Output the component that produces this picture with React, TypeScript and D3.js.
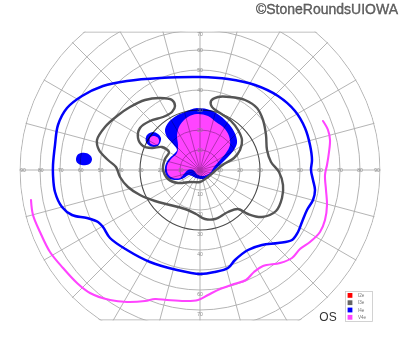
import React from 'react';
import * as d3 from 'd3';

type P = [number, number];

// Grid definitions (degrees)
const circleEcc = [10, 20, 30, 40, 50, 60, 70, 80, 90];
const meridians = [0, 15, 30, 45, 60, 75, 90, 105, 120, 135, 150, 165, 180, 195, 210, 225, 240, 255, 270, 285, 300, 315, 330, 345];
const hLabels = [10, 20, 30, 40, 50, 60, 70, 80, 90];
const vLabels = [10, 20, 30, 40, 50, 60, 70];
const topLimit = 69;
const bottomLimit = -75;

// Isopters, [horizontal deg, vertical deg]
const i4eOuter: P[] = [[0,46.5],[14,45.5],[27.5,42.5],[39,37],[47.5,29.5],[52.5,21],[55,12.5],[56,5],[55.5,0],[56.5,-5],[57.5,-10],[56.5,-15],[53.5,-20],[51,-26],[49,-31],[46,-35],[39,-36.5],[31,-37.5],[24,-40],[17.5,-45],[14,-49],[7.5,-51],[0,-52],[-11.5,-50],[-25,-46],[-36.5,-40],[-45,-34],[-48.5,-28.5],[-51,-26],[-56.5,-24],[-64,-22.5],[-69,-18.5],[-72.5,-11],[-73.5,-2.5],[-73.5,2.5],[-72.5,12.5],[-71,22.5],[-66.5,31],[-59,37],[-48.5,42],[-36.5,44.5],[-20,46]];

const i3e: P[] = [[-12.5,32],[-14,35],[-20,36],[-27.5,35],[-35,31.5],[-41.5,27],[-47.5,21.5],[-51.5,15],[-50.5,10],[-46,5],[-42,1.5],[-40,-3.5],[-36,-8.5],[-30,-12.5],[-22.5,-15.5],[-15,-17.5],[-7.5,-19.5],[-2,-22],[2.5,-24.5],[7.5,-24.5],[14,-21],[19,-19.5],[24,-22],[31,-23.5],[38,-20.5],[41,-14],[41.5,-7.5],[39.5,-1],[35.5,4],[33.5,10],[33,17.5],[31.5,25],[28.5,31],[22.5,35],[15,36.5],[9,36.5],[5.5,34.5],[6,31.5],[10,28.5],[15.5,24.5],[19,20],[21,15],[20,10],[17,6],[12,3],[7.5,-0.5],[4,-3.5],[0,-6],[-5,-6],[-11,-6.5],[-16,-4.5],[-18.5,0.5],[-17.5,5.5],[-15.5,9],[-19,11.5],[-24,11],[-28.5,12],[-31,16],[-30,21],[-25,24.5],[-18.5,26.5],[-14,29]];

const i4eCentral: P[] = [[-7.5,29],[-1.5,31],[5,30],[9.5,27.5],[13,24.5],[16,21],[18,17],[18.5,13.5],[17,10],[14,6.5],[11,3.5],[8,0.5],[5.5,-2.5],[2,-4.5],[-2,-4],[-5.5,-2.5],[-8,-4],[-11,-5],[-15,-4.5],[-17,-2.5],[-17.5,1.5],[-16,5],[-13,8],[-11.5,10],[-13.5,13],[-16.5,16.5],[-17.5,20],[-16,23.5],[-12,27]];

const v4eCentral: P[] = [[-1.5,28],[4,27],[8,24],[12,21],[14.5,17],[15,12.5],[13,8.5],[10,5],[7,1.5],[5,-1.5],[2,-3],[-1,-2.5],[-3.5,0],[-6,0],[-8,-2],[-10,-4],[-13.5,-4],[-16,-2],[-16.5,2],[-14.5,5.5],[-11.5,8.5],[-11,12.5],[-11.5,17.5],[-10,22.5],[-6,26.5]];

const i4eIsland: P[] = [[-27,16.5],[-26,18],[-23.5,19],[-21,18],[-19.5,16],[-20,13.5],[-22,11.5],[-25,12],[-27,14]];
const v4eIsland: P[] = [[-25,16],[-23.5,17],[-21.5,16.5],[-20.5,15],[-21,13],[-23,12.5],[-25,13.5]];
const i4eBlob: P[] = [[-62,5.5],[-61.2,7.6],[-59,8.6],[-56.5,8.4],[-54.6,7],[-54,5.2],[-55,3.2],[-57.5,2.4],[-60.2,2.8],[-61.7,4]];

const v4eOuter: P[] = [[61.5,24.5],[64,20],[65,15],[64.5,9],[63.5,2.5],[62.5,-2.5],[63,-10],[63.5,-17.5],[62.5,-25],[60,-31],[55,-36],[50,-39.5],[46,-44],[40,-46.5],[31.5,-48],[27,-51],[23,-55],[17,-57],[10,-59.5],[4,-62.5],[-1,-65],[-7.5,-65.5],[-16.5,-65],[-22.5,-64.5],[-27.5,-65.5],[-36.5,-66],[-45,-65],[-55,-61.5],[-61.5,-56.5],[-68.5,-49],[-75,-41],[-80,-31],[-83.5,-22.5],[-84.5,-15]];

const legendLabels = ['I2e', 'I3e', 'I4e', 'V4e'];
const legendColors = ['#ff0000', '#666666', '#0000ff', '#ff44ff'];

const BLUE = '#0000ff';
const PINK = '#ff44ff';
const GRAY = '#555555';

export default function App() {
  const x = d3.scaleLinear().domain([-90, 90]).range([20, 380]);
  const y = d3.scaleLinear().domain([-90, 90]).range([350, -10]);
  const r = d3.scaleLinear().domain([0, 90]).range([0, 180]);
  const cx = x(0), cy = y(0);

  const closed = d3.line<P>().x(d => x(d[0])).y(d => y(d[1])).curve(d3.curveCatmullRomClosed.alpha(0.5));
  const open = d3.line<P>().x(d => x(d[0])).y(d => y(d[1])).curve(d3.curveCatmullRom.alpha(0.5));

  const yTop = y(topLimit), yBot = y(bottomLimit);
  const font = 'Liberation Sans, Arial, sans-serif';
  const gridColor = '#ababab';

  return (
    <svg width={400} height={352} style={{ position: 'absolute', left: 0, top: 0, background: '#fff' }}>
      <defs>
        <clipPath id="rectClip">
          <rect x={0} y={yTop - 0.6} width={400} height={yBot - yTop + 1.2} />
        </clipPath>
        <clipPath id="circClip">
          <circle cx={cx} cy={cy} r={r(90) + 0.6} />
        </clipPath>
      </defs>
      <rect x={0} y={0} width={400} height={352} fill="#fff" />

      {/* filled regions */}
      <path d={closed(i4eCentral) || ''} fill={BLUE} />
      <path d={closed(v4eCentral) || ''} fill={PINK} />
      <path d={closed(i4eIsland) || ''} fill={BLUE} />
      <path d={closed(v4eIsland) || ''} fill={PINK} />
      <path d={closed(i4eBlob) || ''} fill={BLUE} />

      {/* grid */}
      <g style={{ mixBlendMode: 'multiply' }} clipPath="url(#rectClip)">
        <g clipPath="url(#circClip)">
          {meridians.map(a => {
            const rad = (a * Math.PI) / 180;
            return (
              <line key={'m' + a} x1={cx} y1={cy}
                x2={x(95 * Math.cos(rad))} y2={y(95 * Math.sin(rad))}
                stroke={gridColor} strokeWidth={0.9} />
            );
          })}
          {circleEcc.map(e => (
            <circle key={'c' + e} cx={cx} cy={cy} r={r(e)} fill="none"
              stroke={e === 30 ? '#4a4a4a' : gridColor} strokeWidth={e === 30 ? 1.1 : 0.9} />
          ))}
          <line x1={x(-90)} x2={x(90)} y1={yTop} y2={yTop} stroke={gridColor} strokeWidth={1.1} />
          <line x1={x(-90)} x2={x(90)} y1={yBot} y2={yBot} stroke={gridColor} strokeWidth={1.1} />
        </g>
      </g>

      {/* axis labels */}
      <g fontFamily={font} fontSize={5} fill="#8a8a8a" textAnchor="middle">
        {hLabels.map(v => (
          <React.Fragment key={'h' + v}>
            <text x={x(-v) + (v === 90 ? 3 : 0.7)} y={cy} dy="0.35em">{v}</text>
            <text x={x(v) - (v === 90 ? 3 : 0)} y={cy} dy="0.35em">{v}</text>
          </React.Fragment>
        ))}
        {vLabels.map(v => (
          <React.Fragment key={'v' + v}>
            <text x={cx} y={Math.max(y(v), yTop + 2.5)} dy="0.35em">{v}</text>
            <text x={cx} y={y(-v) + 4} dy="0.35em">{v}</text>
          </React.Fragment>
        ))}
      </g>

      {/* isopter lines */}
      <path d={open(v4eOuter) || ''} fill="none" stroke={PINK} strokeWidth={2.1} strokeLinecap="round" />
      <path d={closed(i3e) || ''} fill="none" stroke={GRAY} strokeWidth={2.4} />
      <path d={closed(i4eOuter) || ''} fill="none" stroke={BLUE} strokeWidth={2.5} />

      {/* legend */}
      <rect x={345.5} y={291.5} width={27} height={30} fill="#fff" stroke="#c8c8c8" strokeWidth={0.8} />
      {legendLabels.map((l, i) => (
        <g key={l}>
          <rect x={347.6} y={293 + i * 7.3} width={4.8} height={4.8} fill={legendColors[i]} />
          <text x={358} y={293 + i * 7.3 + 4} fontFamily={font} fontSize={4.6} fill="#777">{l}</text>
        </g>
      ))}
      <text x={328} y={321} textAnchor="middle" fontFamily={font} fontSize={12} fill="#333">OS</text>

      <text x={398} y={13.5} textAnchor="end" fontFamily={font} fontSize={14} fill="#6a6a6a" stroke="#3a3a3a" strokeWidth={0.3}>©StoneRoundsUIOWA</text>
    </svg>
  );
}
